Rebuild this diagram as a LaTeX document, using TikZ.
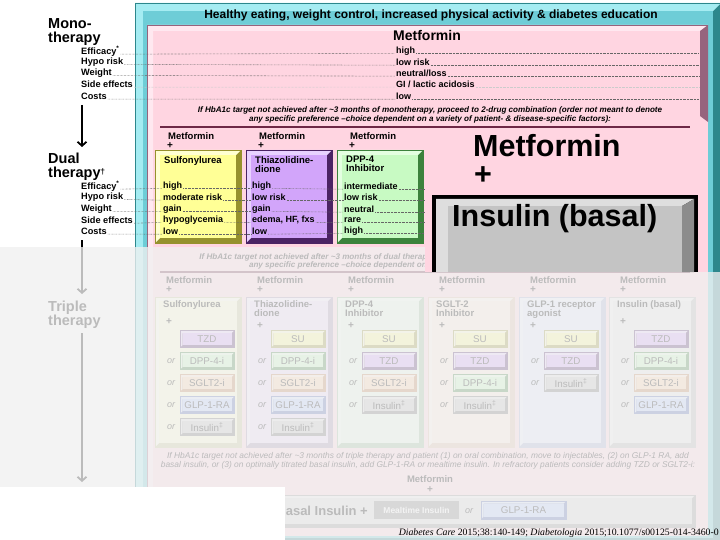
\documentclass[tikz,border=0pt]{standalone}
\usepackage{fontspec}
\setmainfont{Liberation Sans}
\newfontfamily\citefont{Liberation Serif}
\usetikzlibrary{arrows.meta}

\definecolor{tealmain}{RGB}{110,205,215}
\definecolor{teall}{RGB}{165,236,242}
\definecolor{teald}{RGB}{45,135,140}
\definecolor{pinkmain}{RGB}{255,213,225}
\definecolor{pinkl}{RGB}{255,232,240}
\definecolor{pinkd}{RGB}{150,100,125}
\definecolor{rulec}{RGB}{110,40,70}
\definecolor{su}{RGB}{255,255,150}
\definecolor{sul}{RGB}{255,255,210}
\definecolor{sud}{RGB}{150,145,45}
\definecolor{tzd}{RGB}{210,165,250}
\definecolor{tzdl}{RGB}{232,210,255}
\definecolor{tzdd}{RGB}{75,35,100}
\definecolor{dpp}{RGB}{200,250,195}
\definecolor{dppl}{RGB}{228,255,225}
\definecolor{dppd}{RGB}{60,130,60}
\definecolor{sglt}{RGB}{255,215,175}
\definecolor{sgltl}{RGB}{255,235,215}
\definecolor{sgltd}{RGB}{190,130,80}
\definecolor{glp}{RGB}{185,205,255}
\definecolor{glpl}{RGB}{215,228,255}
\definecolor{glpd}{RGB}{80,100,180}
\definecolor{ins}{RGB}{195,195,195}
\definecolor{insl}{RGB}{225,225,225}
\definecolor{insd}{RGB}{110,110,110}
\definecolor{meal}{RGB}{135,135,135}
\definecolor{fadegrey}{RGB}{240,240,240}
\definecolor{calight}{RGB}{222,222,222}
\definecolor{camain}{RGB}{196,196,196}
\definecolor{cadark}{RGB}{140,140,140}

% [bevel]{x1}{y1}{x2}{y2}{main}{light}{dark}
\newcommand{\bvbox}[8][5]{%
  \fill[fill=#8] (#2,#3) rectangle (#4,#5);
  \fill[fill=#7] (#2,#3) -- (#4,#3) -- (#4-#1,#3+#1) -- (#2+#1,#3+#1) -- (#2+#1,#5-#1) -- (#2,#5) -- cycle;
  \fill[fill=#6] (#2+#1,#3+#1) rectangle (#4-#1,#5-#1);
  \draw[draw=#8,line width=0.8pt] (#2,#3) rectangle (#4,#5);}

\begin{document}
\begin{tikzpicture}[x=1pt,y=-1pt,
  lbl/.style={anchor=west,inner sep=0pt,font=\fontsize{9.2}{9}\selectfont\bfseries},
  val/.style={anchor=west,inner sep=0pt,font=\fontsize{9}{9}\selectfont\bfseries},
  stage/.style={anchor=north west,inner sep=0pt,align=left,font=\fontsize{14.5}{14}\selectfont\bfseries},
  note/.style={inner sep=0pt,align=center,font=\fontsize{8.1}{8.4}\selectfont\bfseries\itshape},
  met/.style={anchor=west,inner sep=0pt,font=\fontsize{9.5}{10}\selectfont\bfseries},
  plus/.style={inner sep=0pt,font=\fontsize{10}{10}\selectfont\bfseries},
  ttl/.style={anchor=north west,inner sep=0pt,align=left,font=\fontsize{9.5}{9}\selectfont\bfseries},
  drugtxt/.style={inner sep=0pt,font=\fontsize{9.8}{10}\selectfont},
  ortxt/.style={inner sep=0pt,font=\fontsize{9}{9}\selectfont\itshape},
  leader/.style={line width=0.6pt,dash pattern=on 0.5pt off 0.9pt,shorten <=1pt,shorten >=1pt},
  flow/.style={line width=1.8pt,-{Straight Barb[length=4pt,width=9pt]}},
  big/.style={anchor=west,inner sep=0pt,font=\fontsize{30.5}{30}\selectfont\bfseries}]
\useasboundingbox (0,0) rectangle (720,540);
\fill[white] (0,0) rectangle (720,540);

% frames
\bvbox[8]{135}{3}{721}{546}{tealmain}{teall}{teald}
\node[inner sep=0pt,font=\fontsize{12}{12}\selectfont\bfseries] (head) at (431,15) {Healthy eating, weight control, increased physical activity \& diabetes education};
\fill[pinkmain] (147,25) rectangle (708,536);
\fill[pinkl] (147,25) -- (708,25) -- (700,31) -- (153,31) -- (153,536) -- (147,536) -- cycle;
\fill[pinkd] (708,25) -- (708,122) -- (700,116) -- (700,31) -- cycle;
\draw[pinkd,line width=1pt] (147.5,536) -- (147.5,25.5) -- (708,25.5);

% monotherapy
\node[stage] (mono) at (48,18.5) {Mono-\\therapy};
\node[anchor=west,inner sep=0pt,font=\fontsize{14}{14}\selectfont\bfseries] (mmet) at (393,35) {Metformin};
\coordinate (mend) at (700,0);
\foreach \yy/\lab/\v/\lc [count=\i] in {51/Efficacy\textsuperscript{*}/high/black!60, 62/Hypo risk/low risk/black!60, 73/Weight/{neutral/loss}/black!60, 84/Side effects/{GI / lactic acidosis}/black!20, 96/Costs/low/black!60}{
  \node[lbl] (ml\i) at (81,\yy) {\lab};
  \node[val] (mv\i) at (396,\yy) {\v};
  \draw[leader,\lc] (ml\i.base east) -- (mv\i.base west);
  \draw[leader,\lc] (mv\i.base east) -- (mv\i.base east -| mend);
}
\node[note] (mnote) at (430,115) {If HbA1c target not achieved after \textasciitilde3 months of monotherapy, proceed to 2-drug combination (order not meant to denote\\any specific preference --choice dependent on a variety of patient- \& disease-specific factors):};
\draw[rulec,line width=1.2pt] (160,127) -- (690,127);

% dual therapy
\node[stage] (dual) at (48,153) {Dual\\therapy\raisebox{0.2em}{\fontsize{8}{8}\selectfont\dag}};
\foreach \cx/\ckey/\ctitle [count=\c] in {155/su/Sulfonylurea, 246/tzd/{Thiazolidine-\\dione}, 337/dpp/{DPP-4\\Inhibitor}}{
  \node[met] (dm\c) at (\cx+13,136) {Metformin};
  \node[plus] (dp\c) at (\cx+15,146) {+};
  \bvbox[5]{\cx}{150}{\cx+86}{243}{\ckey}{\ckey l}{\ckey d}
  \node[ttl] (dt\c) at (\cx+9,156) {\ctitle};
}
\coordinate (dend) at (428,0);
\foreach \yy/\lab/\va/\vb/\vc [count=\i] in {186/Efficacy\textsuperscript{*}/high/high/intermediate, 197/Hypo risk/moderate risk/low risk/low risk, 209/Weight/gain/gain/neutral, 220/Side effects/hypoglycemia/{edema, HF, fxs}/rare, 231/Costs/low/low/high}{
  \node[lbl] (dl\i) at (81,\yy) {\lab};
  \node[val] (da\i) at (163,\yy) {\va};
  \node[val] (db\i) at (252,\yy) {\vb};
  \node[val] (dc\i) at (344,\yy) {\vc};
  \draw[leader,black!60] (dl\i.base east) -- (da\i.base west);
  \draw[leader,black!60] (da\i.base east) -- (db\i.base west);
  \draw[leader,black!60] (db\i.base east) -- (dc\i.base west);
  \draw[leader,black!60] (dc\i.base east) -- (dc\i.base east -| dend);
}
\node[note] (dnote) at (430,261.5) {If HbA1c target not achieved after \textasciitilde3 months of dual therapy, proceed to 3-drug combination (order not meant to denote\\any specific preference --choice dependent on a variety of patient- \& disease-specific factors):};
\draw[rulec,line width=1.2pt] (160,272) -- (690,272);

% triple therapy
\node[stage] (triple) at (48,300.5) {Triple\\therapy};
\foreach \cx/\ckey/\ctitle/\cplus/\items [count=\c] in {
  155/su/Sulfonylurea/322/{tzd/TZD,dpp/DPP-4-i,sglt/SGLT2-i,glp/GLP-1-RA,ins/Insulin\textsuperscript{\ddag}},
  246/tzd/{Thiazolidine-\\dione}/326/{su/SU,dpp/DPP-4-i,sglt/SGLT2-i,glp/GLP-1-RA,ins/Insulin\textsuperscript{\ddag}},
  337/dpp/{DPP-4\\Inhibitor}/326/{su/SU,tzd/TZD,sglt/SGLT2-i,ins/Insulin\textsuperscript{\ddag}},
  428/sglt/{SGLT-2\\Inhibitor}/326/{su/SU,tzd/TZD,dpp/DPP-4-i,ins/Insulin\textsuperscript{\ddag}},
  519/glp/{GLP-1 receptor\\agonist}/326/{su/SU,tzd/TZD,ins/Insulin\textsuperscript{\ddag}},
  609/ins/Insulin (basal)/322/{tzd/TZD,dpp/DPP-4-i,sglt/SGLT2-i,glp/GLP-1-RA}}{
  \node[met] (tm\c) at (\cx+11,280) {Metformin};
  \node[plus] (tp\c) at (\cx+14,290) {+};
  \bvbox[4]{\cx}{297}{\cx+86}{447}{\ckey!40!white}{\ckey l!40!white}{\ckey d!50!white}
  \node[ttl] (tt\c) at (\cx+8,300.5) {\ctitle};
  \node[plus] (tq\c) at (\cx+14,\cplus) {+};
  \foreach \dk/\dt [count=\r] in \items {
    \pgfmathsetmacro{\ry}{339+22*(\r-1)}
    \bvbox[2.5]{\cx+25}{\ry-8.5}{\cx+79}{\ry+8.5}{\dk}{\dk l}{\dk d}
    \node[drugtxt] (i\c-\r) at (\cx+52,\ry) {\dt};
    \ifnum\r>1 \node[ortxt] (o\c-\r) at (\cx+16,\ry) {or};\fi
  }
}
\node[note,font=\fontsize{8.4}{8.4}\selectfont\itshape] (tnote) at (428,461) {If HbA1c target not achieved after \textasciitilde3 months of triple therapy and patient (1) on oral combination, move to injectables, (2) on GLP-1 RA, add\\basal insulin, or (3) on optimally titrated basal insulin, add GLP-1-RA or mealtime insulin. In refractory patients consider adding TZD or SGLT2-i:};
\node[met,anchor=center] (qm) at (430,479) {Metformin};
\node[plus] (qp) at (430,490) {+};
\bvbox[3]{155}{495}{695}{527}{ins!60!white}{insl!60!white}{insd!70!white}
\node[anchor=east,inner sep=0pt,font=\fontsize{13}{14}\selectfont\bfseries] (qb) at (368,511) {Basal Insulin +};
\fill[meal] (374,501) rectangle (459,519);
\node[drugtxt,white,font=\fontsize{8.5}{9}\selectfont\bfseries] (qmeal) at (416.5,510) {Mealtime Insulin};
\node[ortxt] (qor) at (469,511) {or};
\bvbox[2.5]{481}{501}{566}{519}{glp}{glpl}{glpd}
\node[drugtxt] (qglp) at (523.5,510) {GLP-1-RA};

% arrows between stages
\coordinate (a1) at (82,105); \coordinate (a1e) at (82,147);
\coordinate (a2) at (82,240); \coordinate (a2e) at (82,294);
\coordinate (a3) at (82,333); \coordinate (a3e) at (82,482);
\draw[flow] (a1) -- (a1e);
\draw[flow] (a2) -- (a2e);
\draw[flow] (a3) -- (a3e);

% faded lower part
\fill[fadegrey,opacity=0.78] (0,247) rectangle (720,540);

% enlarged callout
\fill[pinkmain] (425,128) rectangle (708,272);
\fill[tealmain] (708,128) rectangle (720,272);
\fill[teald] (713,128) rectangle (720,272);
\node[big] (cm) at (473,146) {Metformin};
\node[big,anchor=center] (cp) at (483,176) {+};
\fill[black] (432,195) rectangle (698,272);
\fill[calight] (436,199) -- (694,199) -- (682,206) -- (448,206) -- (448,272) -- (436,272) -- cycle;
\fill[cadark] (694,199) -- (694,272) -- (682,272) -- (682,206) -- cycle;
\fill[camain] (448,206) rectangle (682,272);
\node[big] (ci) at (452,219) {Insulin (basal)};

\fill[white] (0,487) rectangle (285,540);
\node[anchor=east,inner sep=0pt,font=\citefont\fontsize{9.8}{10}\selectfont] (cite) at (719,533) {\textit{Diabetes Care} 2015;38:140-149; \textit{Diabetologia} 2015;10.1077/s00125-014-3460-0};
\end{tikzpicture}
\end{document}
